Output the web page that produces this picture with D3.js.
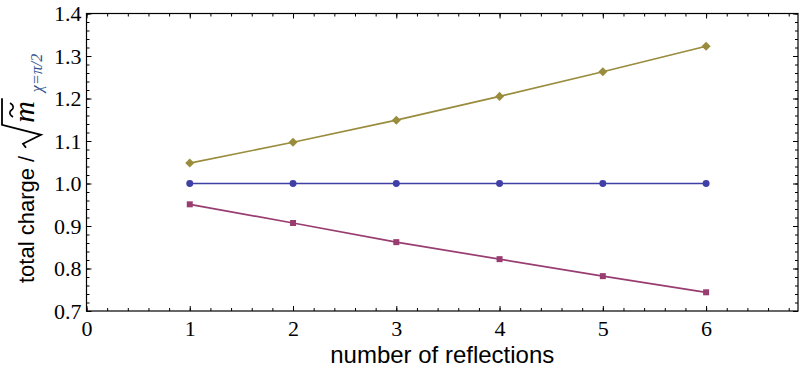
<!DOCTYPE html>
<html>
<head>
<meta charset="utf-8">
<script src="https://cdn.jsdelivr.net/npm/d3@7"></script>
<style>
  body { margin: 0; background: #fff; }
  svg { display: block; }
</style>
</head>
<body>
<div id="chart"></div>
<script>
const width = 800, height = 375;

// data
const reflections = [1, 2, 3, 4, 5, 6];
const blueVals = [1.0, 1.0, 1.0, 1.0, 1.0, 1.0];
const magentaVals = [0.951, 0.907, 0.862, 0.822, 0.782, 0.744];
const oliveVals = [1.048, 1.097, 1.149, 1.205, 1.263, 1.323];
const xTicks = [0, 1, 2, 3, 4, 5, 6];
const yTicks = [0.7, 0.8, 0.9, 1.0, 1.1, 1.2, 1.3, 1.4];

const mLeft = 86.5, mRight = 798, mTop = 13.5, mBottom = 311;

var svg = d3.select("#chart")
  .append("svg")
  .attr("width", width)
  .attr("height", height);

const x = d3.scaleLinear().domain([0, 6.89]).range([mLeft, mRight]);
const y = d3.scaleLinear().domain([0.7, 1.4]).range([mBottom, mTop]);

const xMinor = d3.range(0, 6.89, 0.2);
const yMinor = d3.range(0.7, 1.401, 0.02);

// axes: ticks point inward, mirrored on top and right
function styleAxis(g) {
  g.select(".domain").remove();
  g.selectAll(".tick line").attr("stroke", "#000").attr("stroke-width", 1);
  g.selectAll("text")
    .attr("fill", "#000")
    .attr("font-family", "'Liberation Serif', 'Times New Roman', serif")
    .attr("font-size", 22);
}

// bottom
svg.append("g").attr("transform", `translate(0,${mBottom})`)
  .call(d3.axisBottom(x).tickValues(xMinor).tickSize(-3).tickFormat(""))
  .call(styleAxis);
svg.append("g").attr("transform", `translate(0,${mBottom})`)
  .call(d3.axisBottom(x).tickValues(xTicks).tickSizeInner(-5).tickSizeOuter(0).tickPadding(5).tickFormat(d3.format("d")))
  .call(styleAxis)
  .selectAll("text").attr("dy", "0.9em");
// top
svg.append("g").attr("transform", `translate(0,${mTop})`)
  .call(d3.axisTop(x).tickValues(xMinor).tickSize(-3).tickFormat(""))
  .call(styleAxis);
svg.append("g").attr("transform", `translate(0,${mTop})`)
  .call(d3.axisTop(x).tickValues(xTicks).tickSize(-5).tickFormat(""))
  .call(styleAxis);
// left
svg.append("g").attr("transform", `translate(${mLeft},0)`)
  .call(d3.axisLeft(y).tickValues(yMinor).tickSize(-3).tickFormat(""))
  .call(styleAxis);
svg.append("g").attr("transform", `translate(${mLeft},0)`)
  .call(d3.axisLeft(y).tickValues(yTicks).tickSizeInner(-5).tickSizeOuter(0).tickPadding(5).tickFormat(d3.format(".1f")))
  .call(styleAxis);
// right
svg.append("g").attr("transform", `translate(${mRight},0)`)
  .call(d3.axisRight(y).tickValues(yMinor).tickSize(-3).tickFormat(""))
  .call(styleAxis);
svg.append("g").attr("transform", `translate(${mRight},0)`)
  .call(d3.axisRight(y).tickValues(yTicks).tickSize(-5).tickFormat(""))
  .call(styleAxis);

// frame
svg.append("rect")
  .attr("x", mLeft).attr("y", mTop)
  .attr("width", mRight - mLeft).attr("height", mBottom - mTop)
  .attr("fill", "none").attr("stroke", "#000").attr("stroke-width", 1.2);

// series
const diamond = { draw(ctx, size) { const r = Math.sqrt(size) / 1.4; ctx.moveTo(0, -r); ctx.lineTo(r, 0); ctx.lineTo(0, r); ctx.lineTo(-r, 0); ctx.closePath(); } };
const series = [
  { vals: blueVals, color: "#3f3fa6", shape: d3.symbolCircle, size: 38 },
  { vals: magentaVals, color: "#993d71", shape: d3.symbolSquare, size: 36 },
  { vals: oliveVals, color: "#998c3d", shape: diamond, size: 40 }
];

const line = d3.line().x(d => x(d[0])).y(d => y(d[1]));

series.forEach(s => {
  const pts = reflections.map((r, i) => [r, s.vals[i]]);
  svg.append("path")
    .datum(pts)
    .attr("d", line)
    .attr("fill", "none")
    .attr("stroke", s.color)
    .attr("stroke-width", 1.7);
  svg.append("g")
    .selectAll("path")
    .data(pts)
    .enter().append("path")
    .attr("transform", d => `translate(${x(d[0])},${y(d[1])})`)
    .attr("d", d3.symbol().type(s.shape).size(s.size))
    .attr("fill", s.color);
});

// x title
svg.append("text")
  .attr("x", (mLeft + mRight) / 2)
  .attr("y", 363)
  .attr("text-anchor", "middle")
  .attr("font-family", "'Liberation Sans', Arial, sans-serif")
  .attr("font-size", 24)
  .attr("fill", "#000")
  .text("number of reflections");

// y title: total charge / sqrt(m~)_{chi=pi/2}
const yt = svg.append("g");
const t1 = yt.append("text")
  .attr("x", 0).attr("y", 0)
  .attr("font-family", "'Liberation Sans', Arial, sans-serif")
  .attr("font-size", 22)
  .attr("fill", "#000")
  .text("total charge /");
const w1 = t1.node().getComputedTextLength();

const mText = yt.append("text")
  .attr("y", 0)
  .attr("font-family", "'Liberation Serif', 'Times New Roman', serif")
  .attr("font-style", "italic")
  .attr("font-size", 30)
  .attr("fill", "#000")
  .text("m");
const mw = mText.node().getComputedTextLength();
const radStart = w1 + 8;
const mx = radStart + 25;
mText.attr("x", mx);

// radical sign
yt.append("path")
  .attr("d", `M${radStart},-8 L${radStart + 4},-11 L${radStart + 13},7 L${radStart + 23},-32 L${mx + mw + 3},-32`)
  .attr("fill", "none")
  .attr("stroke", "#000")
  .attr("stroke-width", 1.8)
  .attr("stroke-linejoin", "miter");

// tilde over m
const tc = mx + mw / 2 + 2;
yt.append("path")
  .attr("d", `M${tc - 7},-21 C${tc - 4},-26 ${tc - 1},-24 ${tc},-22.5 C${tc + 1},-21 ${tc + 4},-19 ${tc + 7},-24`)
  .attr("fill", "none")
  .attr("stroke", "#000")
  .attr("stroke-width", 1.6);

const sub = yt.append("text")
  .attr("x", mx + mw + 9)
  .attr("y", 8)
  .attr("font-family", "'Liberation Serif', 'Times New Roman', serif")
  .attr("font-style", "italic")
  .attr("font-size", 16)
  .attr("fill", "#34558f")
  .text("\u03c7=\u03c0/2");
const total = mx + mw + 9 + sub.node().getComputedTextLength();

// label runs from about y=283 upward
yt.attr("transform", `translate(34,${283}) rotate(-90)`);
</script>
</body>
</html>
